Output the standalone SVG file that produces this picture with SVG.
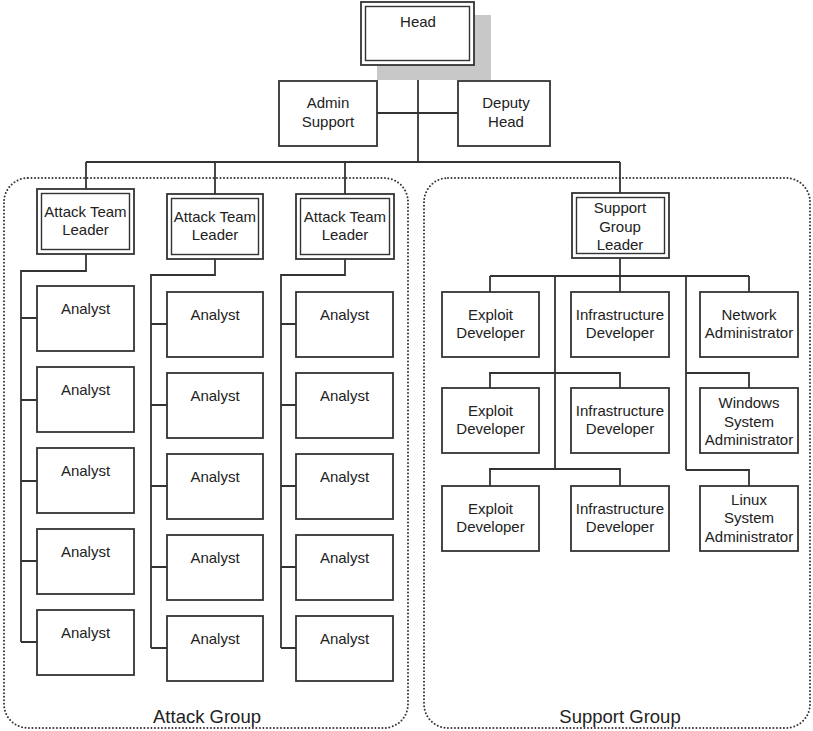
<svg xmlns="http://www.w3.org/2000/svg" width="813" height="731" viewBox="0 0 813 731">
<style>
.bx{fill:#fff;stroke:#333;stroke-width:1.8}
.db{fill:none;stroke:#333;stroke-width:1.4}
.grp{fill:none;stroke:#333;stroke-width:2;stroke-linecap:round;stroke-dasharray:0 3.5}
.t{font-family:"Liberation Sans",Arial,sans-serif;font-size:15px;fill:#222;text-anchor:middle}
.g{font-family:"Liberation Sans",Arial,sans-serif;font-size:18.5px;fill:#222;text-anchor:middle}
#connectors path{fill:none;stroke:#333;stroke-width:1.8}
</style>
<rect width="813" height="731" fill="#fff"/>
<g id="attack-group"><rect class="grp" x="4" y="178" width="404" height="550" rx="24"/><text class="g" x="207" y="723">Attack Group</text></g>
<g id="support-group"><rect class="grp" x="424" y="178" width="386" height="550" rx="24"/><text class="g" x="620" y="723">Support Group</text></g>
<g id="connectors">
<path d="M418 65V162M377 113H458M86 162H620M86 162V189M215 162V194M345 162V194M620 162V193"/>
<path d="M86 254V271H21V642M21 318H37M21 400H37M21 481H37M21 561H37M21 642H37"/>
<path d="M215 259V275H151V648M151 324H167M151 405H167M151 486H167M151 567H167M151 648H167"/>
<path d="M345 259V275H281V648M281 324H296M281 405H296M281 486H296M281 567H296M281 648H296"/>
<path d="M620 258V292M490 276H749M490 276V292M749 276V292M555 276V469M686 276V470"/>
<path d="M490 388V373H620V388M490 486V469H620V486M686 373H749V388M686 470H749V486"/>
</g>
<g id="head"><rect x="377" y="15" width="114" height="65" fill="#c8c8c8"/><rect class="bx" x="361" y="2" width="113" height="63"/><rect class="db" x="365.5" y="6.5" width="104" height="54"/><text class="t" x="418" y="27">Head</text></g>
<g id="admin-support"><rect class="bx" x="279" y="81" width="98" height="65"/><text class="t" x="328" y="108">Admin</text><text class="t" x="328" y="127">Support</text></g>
<g id="deputy-head"><rect class="bx" x="458" y="81" width="92" height="65"/><text class="t" x="506" y="108">Deputy</text><text class="t" x="506" y="127">Head</text></g>
<g id="atl1"><rect class="bx" x="37" y="189" width="97" height="65"/><rect class="db" x="41.5" y="193.5" width="88" height="56"/><text class="t" x="85.5" y="217">Attack Team</text><text class="t" x="85.5" y="235">Leader</text></g>
<g id="atl2"><rect class="bx" x="167" y="194" width="96" height="65"/><rect class="db" x="171.5" y="198.5" width="87" height="56"/><text class="t" x="215" y="222">Attack Team</text><text class="t" x="215" y="240">Leader</text></g>
<g id="atl3"><rect class="bx" x="296" y="194" width="98" height="65"/><rect class="db" x="300.5" y="198.5" width="89" height="56"/><text class="t" x="345" y="222">Attack Team</text><text class="t" x="345" y="240">Leader</text></g>
<g id="a1-1"><rect class="bx" x="37" y="286" width="97" height="65"/><text class="t" x="85.5" y="314">Analyst</text></g>
<g id="a1-2"><rect class="bx" x="37" y="367" width="97" height="65"/><text class="t" x="85.5" y="395">Analyst</text></g>
<g id="a1-3"><rect class="bx" x="37" y="448" width="97" height="65"/><text class="t" x="85.5" y="476">Analyst</text></g>
<g id="a1-4"><rect class="bx" x="37" y="529" width="97" height="65"/><text class="t" x="85.5" y="557">Analyst</text></g>
<g id="a1-5"><rect class="bx" x="37" y="610" width="97" height="65"/><text class="t" x="85.5" y="638">Analyst</text></g>
<g id="a2-1"><rect class="bx" x="167" y="292" width="96" height="65"/><text class="t" x="215" y="320">Analyst</text></g>
<g id="a2-2"><rect class="bx" x="167" y="373" width="96" height="65"/><text class="t" x="215" y="401">Analyst</text></g>
<g id="a2-3"><rect class="bx" x="167" y="454" width="96" height="65"/><text class="t" x="215" y="482">Analyst</text></g>
<g id="a2-4"><rect class="bx" x="167" y="535" width="96" height="65"/><text class="t" x="215" y="563">Analyst</text></g>
<g id="a2-5"><rect class="bx" x="167" y="616" width="96" height="65"/><text class="t" x="215" y="644">Analyst</text></g>
<g id="a3-1"><rect class="bx" x="296" y="292" width="97" height="65"/><text class="t" x="344.5" y="320">Analyst</text></g>
<g id="a3-2"><rect class="bx" x="296" y="373" width="97" height="65"/><text class="t" x="344.5" y="401">Analyst</text></g>
<g id="a3-3"><rect class="bx" x="296" y="454" width="97" height="65"/><text class="t" x="344.5" y="482">Analyst</text></g>
<g id="a3-4"><rect class="bx" x="296" y="535" width="97" height="65"/><text class="t" x="344.5" y="563">Analyst</text></g>
<g id="a3-5"><rect class="bx" x="296" y="616" width="97" height="65"/><text class="t" x="344.5" y="644">Analyst</text></g>
<g id="sgl"><rect class="bx" x="572" y="193" width="97" height="65"/><rect class="db" x="576.5" y="197.5" width="88" height="56"/><text class="t" x="620" y="213">Support</text><text class="t" x="620" y="232">Group</text><text class="t" x="620" y="250">Leader</text></g>
<g id="ed1"><rect class="bx" x="442" y="292" width="97" height="65"/><text class="t" x="490.5" y="320">Exploit</text><text class="t" x="490.5" y="338">Developer</text></g>
<g id="ed2"><rect class="bx" x="442" y="388" width="97" height="65"/><text class="t" x="490.5" y="416">Exploit</text><text class="t" x="490.5" y="434">Developer</text></g>
<g id="ed3"><rect class="bx" x="442" y="486" width="97" height="65"/><text class="t" x="490.5" y="514">Exploit</text><text class="t" x="490.5" y="532">Developer</text></g>
<g id="id1"><rect class="bx" x="571" y="292" width="98" height="65"/><text class="t" x="620" y="320">Infrastructure</text><text class="t" x="620" y="338">Developer</text></g>
<g id="id2"><rect class="bx" x="571" y="388" width="98" height="65"/><text class="t" x="620" y="416">Infrastructure</text><text class="t" x="620" y="434">Developer</text></g>
<g id="id3"><rect class="bx" x="571" y="486" width="98" height="65"/><text class="t" x="620" y="514">Infrastructure</text><text class="t" x="620" y="532">Developer</text></g>
<g id="net-admin"><rect class="bx" x="700" y="292" width="98" height="65"/><text class="t" x="749" y="320">Network</text><text class="t" x="749" y="338">Administrator</text></g>
<g id="win-admin"><rect class="bx" x="700" y="388" width="98" height="65"/><text class="t" x="749" y="408">Windows</text><text class="t" x="749" y="427">System</text><text class="t" x="749" y="445">Administrator</text></g>
<g id="linux-admin"><rect class="bx" x="700" y="486" width="98" height="65"/><text class="t" x="749" y="505">Linux</text><text class="t" x="749" y="523">System</text><text class="t" x="749" y="542">Administrator</text></g>
</svg>
